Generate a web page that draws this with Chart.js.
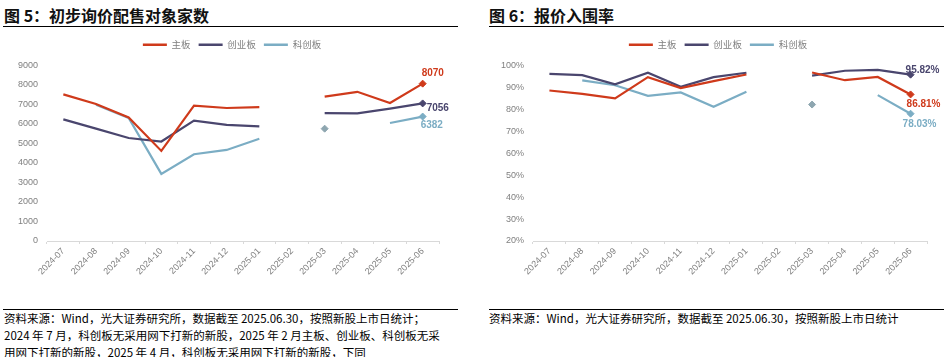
<!DOCTYPE html>
<html><head><meta charset="utf-8">
<script src="https://cdn.jsdelivr.net/npm/chart.js@4.4.1/dist/chart.umd.min.js"></script>
<style>
body{margin:0;width:952px;height:357px;position:relative;background:#fff;overflow:hidden;font-family:"Noto Sans CJK SC",sans-serif;}
.title{position:absolute;top:4px;font-size:16px;font-weight:bold;color:#111;white-space:nowrap;line-height:22px;}
.rule{position:absolute;height:0;border-top:1.5px solid #000;}
.foot{position:absolute;font-size:11.5px;line-height:17px;color:#000;white-space:nowrap;}
canvas{position:absolute;top:32px;}
</style></head>
<body>
<div class="title" style="left:4px">图 5：初步询价配售对象家数</div>
<div class="rule" style="left:3px;width:455px;top:26px"></div>
<div class="title" style="left:489px">图 6：报价入围率</div>
<div class="rule" style="left:489px;width:455px;top:26px"></div>
<canvas id="c1" width="476" height="266" style="left:0"></canvas>
<canvas id="c2" width="476" height="266" style="left:476px"></canvas>
<div class="rule" style="left:3px;width:455px;top:309px;border-top-width:1px"></div>
<div class="foot" style="left:4px;top:310px">资料来源：Wind，光大证券研究所，数据截至 2025.06.30，按照新股上市日统计；<br>2024 年 7 月，科创板无采用网下打新的新股，2025 年 2 月主板、创业板、科创板无采<br>用网下打新的新股，2025 年 4 月，科创板无采用网下打新的新股，下同</div>
<div class="rule" style="left:489px;width:455px;top:309px;border-top-width:1px"></div>
<div class="foot" style="left:489px;top:310px">资料来源：Wind，光大证券研究所，数据截至 2025.06.30，按照新股上市日统计</div>
<script>
const categories = ['2024-07','2024-08','2024-09','2024-10','2024-11','2024-12','2025-01','2025-02','2025-03','2025-04','2025-05','2025-06'];
const seriesNames = ['主板','创业板','科创板'];
// 图5 初步询价配售对象家数
const mainCount = [7520, 7030, 6340, 4620, 6940, 6820, 6870, null, 7400, 7650, 7080, 8070];
const gemCount  = [6240, 5760, 5280, 5100, 6170, 5960, 5880, null, 6560, 6550, 6790, 7056];
const starCount = [null, 6990, 6310, 3440, 4450, 4670, 5240, null, 5760, null, 6050, 6382];
const countTicks = [0, 1000, 2000, 3000, 4000, 5000, 6000, 7000, 8000, 9000];
// 图6 报价入围率 (%)
const mainRate = [88.6, 87.1, 85.0, 94.7, 89.7, 92.9, 95.9, null, 96.8, 93.3, 94.8, 86.81];
const gemRate  = [96.2, 95.6, 91.4, 96.7, 90.3, 94.7, 96.7, null, 95.4, 97.6, 98.0, 95.82];
const starRate = [null, 93.2, 91.0, 86.2, 87.7, 81.2, 88.0, null, 82.2, null, 86.5, 78.03];
const rateTicks = [20, 30, 40, 50, 60, 70, 80, 90, 100];

const colors = ['#cf3a1b', '#4a466e', '#7badc4'];
const loneColor = '#8ea6b0';
const tickFont = {family: '"Liberation Sans", Arial, sans-serif', size: 9};

function isLone(data, i){
  const prev = i>0 ? data[i-1] : null, next = i<data.length-1 ? data[i+1] : null;
  return data[i] !== null && prev === null && next === null;
}
function pointRadii(data){
  return data.map((v,i)=> (v !== null && (i === data.length-1 || isLone(data,i))) ? 3.5 : 0);
}
function pointColors(data, c){
  return data.map((v,i)=> (i !== data.length-1 && isLone(data,i)) ? loneColor : c);
}
function makeDatasets(arrs){
  return arrs.map((d,i)=>({
    label: seriesNames[i], data: d,
    borderColor: colors[i], backgroundColor: colors[i],
    borderWidth: 2.2, tension: 0, spanGaps: false,
    pointStyle: 'rectRot', pointRadius: pointRadii(d), pointHoverRadius: 0,
    pointBackgroundColor: pointColors(d, colors[i]), pointBorderColor: pointColors(d, colors[i]), pointBorderWidth: 1
  }));
}

const endLabels = {
  id: 'endLabels',
  afterDatasetsDraw(chart, args, opts){
    const ctx = chart.ctx;
    chart.data.datasets.forEach((ds, i)=>{
      const cfg = opts.items[i]; if (!cfg) return;
      const idx = ds.data.length - 1;
      const pt = chart.getDatasetMeta(i).data[idx];
      ctx.save();
      ctx.font = 'bold 10px "Liberation Sans", Arial, sans-serif';
      ctx.fillStyle = ds.borderColor;
      ctx.textAlign = 'left'; ctx.textBaseline = 'middle';
      ctx.fillText(opts.format(ds.data[idx]), pt.x + cfg.dx, pt.y + cfg.dy);
      ctx.restore();
    });
  }
};
const legendTweak = {
  id: 'legendTweak',
  beforeInit(chart){
    const orig = chart.legend.fit;
    chart.legend.fit = function(){ orig.bind(chart.legend)(); this.height += 6; };
  },
  afterLayout(chart, args, opts){
    chart.legend.left += opts.shift; chart.legend.right += opts.shift;
  }
};

function makeChart(id, arrs, ticks, yw, padR, legendShift, labelCfg, fmt, tickFmt){
  return new Chart(document.getElementById(id), {
    type: 'line',
    data: {labels: categories, datasets: makeDatasets(arrs)},
    plugins: [endLabels, legendTweak],
    options: {
      responsive: false, animation: false, devicePixelRatio: 1,
      layout: {padding: {left: 0, right: padR, top: 0, bottom: 0}},
      plugins: {
        tooltip: {enabled: false},
        legend: {
          position: 'top', align: 'center',
          labels: {
            boxWidth: 24, boxHeight: 2.5, padding: 8, color: '#7f7f7f',
            font: {family: '"Noto Sans CJK SC", sans-serif', size: 9.5},
            generateLabels(chart){
              return Chart.defaults.plugins.legend.labels.generateLabels(chart).map(l => ({...l, lineWidth: 0, fillStyle: l.strokeStyle}));
            }
          }
        },
        legendTweak: {shift: legendShift},
        endLabels: {items: labelCfg, format: fmt}
      },
      scales: {
        x: {
          offset: true,
          grid: {display: true, drawOnChartArea: false, drawTicks: true, tickLength: 3, color: '#d9d9d9', offset: true},
          border: {display: true, color: '#d9d9d9', width: 1},
          ticks: {color: '#7f7f7f', font: tickFont, maxRotation: 45, minRotation: 45, autoSkip: false, padding: 2},
          afterFit(s){ s.height = 57; }
        },
        y: {
          min: ticks[0], max: ticks[ticks.length-1],
          afterBuildTicks(s){ s.ticks = ticks.map(v => ({value: v})); },
          grid: {display: false, drawTicks: false},
          border: {display: false},
          ticks: {color: '#7f7f7f', font: tickFont, padding: 9, callback: tickFmt},
          afterFit(s){ s.width = yw; }
        }
      }
    }
  });
}

makeChart('c1', [mainCount, gemCount, starCount], countTicks, 47, 37, 12.5,
  [{dx: -1, dy: -10}, {dx: 4, dy: 5}, {dx: -2, dy: 9}],
  v => String(v), v => String(v));
makeChart('c2', [mainRate, gemRate, starRate], rateTicks, 57, 25, 16.5,
  [{dx: -4, dy: 10}, {dx: -5, dy: -4.5}, {dx: -8, dy: 11}],
  v => v.toFixed(2) + '%', v => v + '%');
</script>
</body></html>
